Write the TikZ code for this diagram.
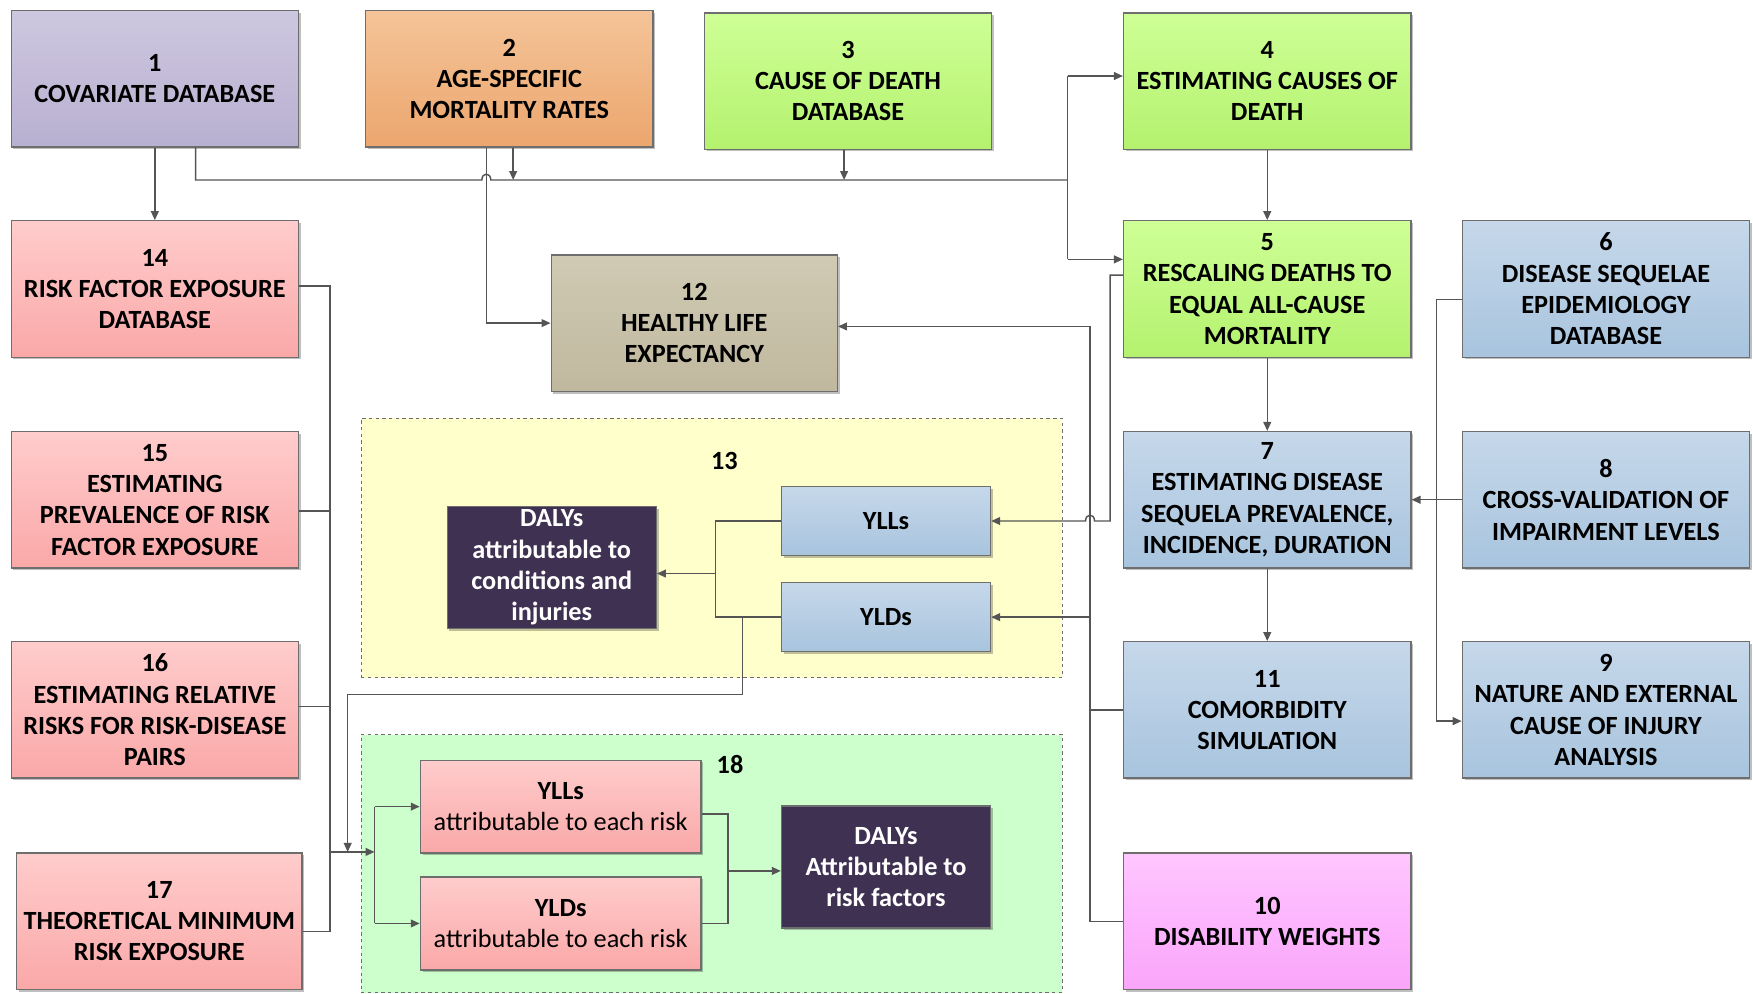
\documentclass[tikz,border=0pt]{standalone}
\usepackage{fontspec}
\setmainfont{Carlito}
\usetikzlibrary{arrows.meta,shadows}

\definecolor{c1t}{RGB}{206,199,224}
\definecolor{c1b}{RGB}{184,176,208}
\definecolor{c2t}{RGB}{244,196,152}
\definecolor{c2b}{RGB}{236,166,110}
\definecolor{cgt}{RGB}{206,255,150}
\definecolor{cgb}{RGB}{180,242,110}
\definecolor{cbt}{RGB}{198,216,234}
\definecolor{cbb}{RGB}{168,196,222}
\definecolor{cmt}{RGB}{255,198,255}
\definecolor{cmb}{RGB}{250,165,250}
\definecolor{ctt}{RGB}{208,202,180}
\definecolor{ctb}{RGB}{192,184,158}
\definecolor{cpt}{RGB}{255,204,204}
\definecolor{cpb}{RGB}{250,168,168}
\definecolor{cdark}{RGB}{63,49,81}
\definecolor{cyel}{RGB}{255,255,204}
\definecolor{cgrn}{RGB}{204,255,204}
\definecolor{cline}{RGB}{85,85,85}
\definecolor{cedge}{RGB}{110,110,110}

\tikzset{
  box/.style={draw=cedge, line width=1.2pt, minimum width=257pt, minimum height=122pt,
    inner sep=0pt, align=center, font=\fontsize{23.5}{28}\selectfont\bfseries,
    drop shadow={shadow xshift=2pt, shadow yshift=-2pt, opacity=0.25, fill=black}},
  purplebox/.style={box, top color=c1t, bottom color=c1b},
  orangebox/.style={box, top color=c2t, bottom color=c2b},
  greenbox/.style={box, top color=cgt, bottom color=cgb},
  bluebox/.style={box, top color=cbt, bottom color=cbb},
  magbox/.style={box, top color=cmt, bottom color=cmb},
  tanbox/.style={box, top color=ctt, bottom color=ctb},
  pinkbox/.style={box, top color=cpt, bottom color=cpb},
  darkbox/.style={box, fill=cdark, text=white, minimum width=187pt, minimum height=109pt},
  smallblue/.style={bluebox, minimum width=187pt, minimum height=62pt},
  attrbox/.style={pinkbox, minimum width=251pt, minimum height=83pt},
  group/.style={draw=cedge, dashed, line width=0.8pt, inner sep=0pt},
  glabel/.style={font=\fontsize{23.5}{28}\selectfont\bfseries, inner sep=0pt},
  ln/.style={draw=cline, line width=1.3pt},
  arr/.style={ln, -{Triangle[length=8pt,width=7pt]}}
}

\begin{document}
\begin{tikzpicture}[x=1pt, y=-1pt]
\useasboundingbox (0,0) rectangle (1568,889);

% groups
\node[group, fill=cyel, minimum width=627pt, minimum height=232pt] (g13) at (636.5,490) {};
\node[group, fill=cgrn, minimum width=627pt, minimum height=231pt] (g18) at (636.5,772.5) {};
\node[glabel] (l13) at (648,412) {13};
\node[glabel] (l18) at (653,684) {18};

% main boxes
\node[purplebox] (b1) at (138.5,70.5) {1\\COVARIATE DATABASE};
\node[orangebox] (b2) at (455.5,70.5) {2\\AGE-SPECIFIC\\MORTALITY RATES};
\node[greenbox] (b3) at (758.5,72.5) {3\\CAUSE OF DEATH\\DATABASE};
\node[greenbox] (b4) at (1133.5,72.5) {4\\ESTIMATING CAUSES OF\\DEATH};
\node[greenbox] (b5) at (1133.5,258.5) {5\\RESCALING DEATHS TO\\EQUAL ALL-CAUSE\\MORTALITY};
\node[bluebox] (b6) at (1436.5,258.5) {6\\DISEASE SEQUELAE\\EPIDEMIOLOGY\\DATABASE};
\node[bluebox] (b7) at (1133.5,447) {7\\ESTIMATING DISEASE\\SEQUELA PREVALENCE,\\INCIDENCE, DURATION};
\node[bluebox] (b8) at (1436.5,447) {8\\CROSS-VALIDATION OF\\IMPAIRMENT LEVELS};
\node[bluebox] (b9) at (1436.5,635) {9\\NATURE AND EXTERNAL\\CAUSE OF INJURY\\ANALYSIS};
\node[magbox] (b10) at (1133.5,824) {10\\DISABILITY WEIGHTS};
\node[bluebox] (b11) at (1133.5,635) {11\\COMORBIDITY\\SIMULATION};
\node[tanbox, minimum width=256pt] (b12) at (621,289) {12\\HEALTHY LIFE\\EXPECTANCY};
\node[pinkbox] (b14) at (138.5,258.5) {14\\RISK FACTOR EXPOSURE\\DATABASE};
\node[pinkbox] (b15) at (138.5,447) {15\\ESTIMATING\\PREVALENCE OF RISK\\FACTOR EXPOSURE};
\node[pinkbox] (b16) at (138.5,635) {16\\ESTIMATING RELATIVE\\RISKS FOR RISK-DISEASE\\PAIRS};
\node[pinkbox, minimum width=255pt] (b17) at (142.5,824) {17\\THEORETICAL MINIMUM\\RISK EXPOSURE};

% group 13 contents
\node[smallblue] (yll) at (792.5,466) {YLLs};
\node[smallblue] (yld) at (792.5,552) {YLDs};
\node[darkbox] (daly1) at (493.5,507.5) {DALYs\\attributable to\\conditions and\\injuries};

% group 18 contents
\node[attrbox] (ylla) at (501.5,721.5) {YLLs\\{\mdseries attributable to each risk}};
\node[attrbox] (ylda) at (501.5,826) {YLDs\\{\mdseries attributable to each risk}};
\node[darkbox] (daly2) at (792.5,775.5) {DALYs\\Attributable to\\risk factors};

% top bus
\coordinate (bl) at (175,161);
\coordinate (br) at (955,161);
\coordinate (bt) at (955,68);
\coordinate (bb) at (955,232);
\coordinate (p2) at (459,161);
\coordinate (p3) at (755,161);
\draw[arr] (b1.south) -- (b14.north);
\draw[ln] (b1.south -| bl) -- (bl) -- (431,161) .. controls (431,154) and (439,154) .. (439,161) -- (br);
\draw[arr] (b2.south -| p2) -- (p2);
\draw[arr] (b3.south -| p3) -- (p3);
\draw[ln] (bt) -- (bb);
\draw[arr] (bt) -- (bt -| b4.west);
\draw[arr] (bb) -- (bb -| b5.west);

% 2 -> 12
\coordinate (h2) at (435,289);
\draw[arr] (b2.south -| h2) -- (h2) -- (b12.west);

% vertical chain
\draw[arr] (b4.south) -- (b5.north);
\draw[arr] (b5.south) -- (b7.north);
\draw[arr] (b7.south) -- (b11.north);

% 5 -> YLLs
\coordinate (k1) at (993,246);
\coordinate (k2) at (993,466);
\draw[arr] (b5.west |- k1) -- (k1) -- (k2) -- (979,466) .. controls (979,459) and (971,459) .. (971,466) -- (yll.east);

% 10, 11 -> YLDs, 12
\coordinate (v1) at (975,292);
\coordinate (v2) at (975,824);
\coordinate (v3) at (975,552);
\draw[ln] (b10.west) -- (v2) -- (v1);
\draw[arr] (v1) -- (b12.east |- v1);
\draw[ln] (b11.west) -- (b11.west -| v1);
\draw[arr] (v3) -- (yld.east);

% 6, 8 -> 7, 9
\coordinate (q1) at (1285,268);
\coordinate (q2) at (1285,645);
\draw[arr] (b6.west |- q1) -- (q1) -- (q2) -- (b9.west |- q2);
\draw[arr] (b8.west) -- (b7.east);

% risk bus
\coordinate (r14) at (295,256);
\coordinate (r15) at (295,457);
\coordinate (r16) at (295,632);
\coordinate (r17) at (295,833);
\coordinate (rj) at (295,762);
\coordinate (sj) at (335,762);
\draw[ln] (b14.east |- r14) -- (r14) -- (r17) -- (b17.east |- r17);
\draw[ln] (b15.east |- r15) -- (r15);
\draw[ln] (b16.east |- r16) -- (r16);
\draw[arr] (rj) -- (sj);
\draw[ln] (ylla.west -| sj) -- (ylda.west -| sj);
\draw[arr] (ylla.west -| sj) -- (ylla.west);
\draw[arr] (ylda.west -| sj) -- (ylda.west);

% inside 13
\coordinate (tx) at (640,513);
\draw[ln] (yll.west) -- (yll.west -| tx) -- (yld.west -| tx) -- (yld.west);
\draw[arr] (tx) -- (tx -| daly1.east);

% 13 -> 18
\coordinate (u1) at (664,552);
\coordinate (u2) at (664,621);
\coordinate (u3) at (311,621);
\coordinate (u4) at (311,762);
\draw[arr] (u1) -- (u2) -- (u3) -- (u4);

% inside 18
\coordinate (w1) at (651,728);
\coordinate (w2) at (651,826);
\coordinate (wj) at (651,779);
\draw[ln] (ylla.east |- w1) -- (w1) -- (w2) -- (ylda.east |- w2);
\draw[arr] (wj) -- (daly2.west |- wj);
\end{tikzpicture}
\end{document}
